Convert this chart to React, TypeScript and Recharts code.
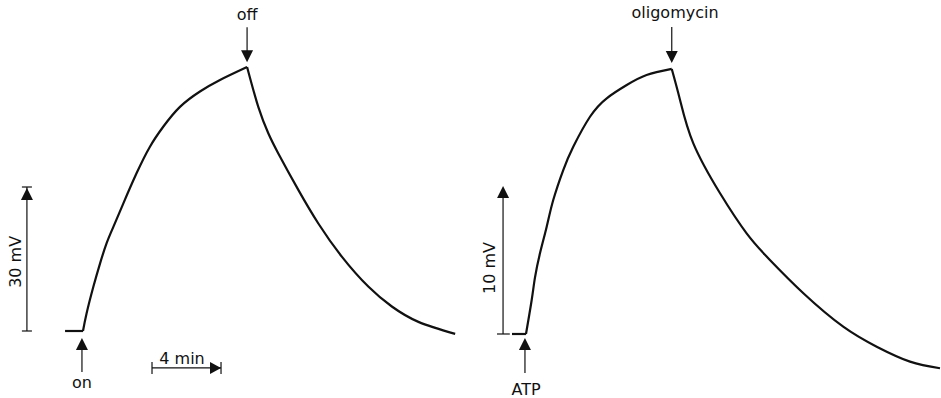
import React from "react";
import { LineChart, Line, XAxis, YAxis, ReferenceLine, ReferenceDot } from "recharts";

// Trace 1: light on/off (time in min, potential in mV)
const lightBaseMin = [-1.04, 0];
const lightBaseMv = [0, 0];
const lightRiseMin = [0, 0.21, 0.6, 0.99, 1.37, 1.76, 2.34, 3.11, 3.88, 4.66, 5.62, 6.78, 7.94, 9.51];
const lightRiseMv = [0, 3.7, 9.2, 14.1, 18.3, 21.7, 26.6, 32.9, 38.4, 42.6, 46.7, 49.9, 52.3, 55.0];
const lightDecayMin = [9.51, 10.16, 10.74, 11.32, 12.48, 13.64, 15.0, 16.55, 17.9, 19.44, 21.57];
const lightDecayMv = [55.0, 46.7, 41.2, 37.0, 29.4, 22.4, 15.5, 9.2, 5.1, 1.9, -0.6];

// Trace 2: ATP then oligomycin
const atpBaseMin = [-0.81, 0];
const atpBaseMv = [0, 0];
const atpRiseMin = [0, 0.33, 0.52, 0.81, 1.2, 1.58, 2.16, 2.74, 3.71, 4.68, 5.84, 6.99, 8.45];
const atpRiseMv = [0, 2.41, 4.0, 5.72, 7.61, 9.5, 11.63, 13.28, 15.41, 16.72, 17.66, 18.37, 18.8];
const atpDecayMin = [8.45, 8.93, 9.7, 11.25, 12.79, 14.14, 16.08, 18.39, 20.33, 22.26, 24.0];
const atpDecayMv = [18.8, 16.6, 13.52, 9.98, 7.14, 5.25, 2.89, 0.52, -0.9, -1.96, -2.43];

const toRows = (ts: number[], vs: number[]) => ts.map((t, i) => ({ t, v: vs[i] }));

const INK = "#111";
const FONT = "'DejaVu Sans', sans-serif";

const downHead = (p: any) => (
  <polygon points={`${p.cx - 6},${p.cy - 12} ${p.cx + 6},${p.cy - 12} ${p.cx},${p.cy}`} fill={INK} />
);
const upHead = (p: any) => (
  <polygon points={`${p.cx - 6},${p.cy + 12} ${p.cx + 6},${p.cy + 12} ${p.cx},${p.cy}`} fill={INK} />
);
const rightHead = (p: any) => (
  <polygon points={`${p.cx - 11},${p.cy - 6} ${p.cx - 11},${p.cy + 6} ${p.cx},${p.cy}`} fill={INK} />
);
const tag = (text: string, rotate = false) => (p: any) => (
  <text
    x={p.cx}
    y={p.cy}
    textAnchor="middle"
    dominantBaseline="central"
    fontFamily={FONT}
    fontSize={16}
    fill={INK}
    transform={rotate ? `rotate(-90 ${p.cx} ${p.cy})` : undefined}
  >
    {text}
  </text>
);

const seg = (x1: number, y1: number, x2: number, y2: number) => (
  <ReferenceLine
    segment={[{ x: x1, y: y1 }, { x: x2, y: y2 }]}
    stroke={INK}
    strokeWidth={1.2}
    ifOverflow="visible"
  />
);

const trace = (rows: any[], type: "linear" | "natural") => (
  <Line
    data={rows}
    dataKey="v"
    type={type}
    stroke={INK}
    strokeWidth={2.2}
    dot={false}
    activeDot={false}
    isAnimationActive={false}
  />
);

const LightPanel = () => (
  <LineChart width={470} height={398} margin={{ top: 0, right: 0, bottom: 0, left: 0 }}>
    <XAxis type="number" dataKey="t" domain={[-4.81, 22.43]} allowDataOverflow hide />
    <YAxis type="number" domain={[-13.96, 68.96]} allowDataOverflow hide />
    {trace(toRows(lightBaseMin, lightBaseMv), "linear")}
    {trace(toRows(lightRiseMin, lightRiseMv), "natural")}
    {trace(toRows(lightDecayMin, lightDecayMv), "natural")}

    {/* "off" marker */}
    {seg(9.51, 63.3, 9.51, 57)}
    <ReferenceDot x={9.51} y={56.0} shape={downHead} ifOverflow="visible" />
    <ReferenceDot x={9.51} y={66.0} shape={tag("off")} ifOverflow="visible" />

    {/* "on" marker */}
    {seg(-0.06, -8.54, -0.06, -2.5)}
    <ReferenceDot x={-0.06} y={-1.46} shape={upHead} ifOverflow="visible" />
    <ReferenceDot x={-0.06} y={-10.7} shape={tag("on")} ifOverflow="visible" />

    {/* 30 mV scale bar */}
    {seg(-3.25, 0, -3.25, 30)}
    {seg(-3.54, 0, -2.96, 0)}
    {seg(-3.54, 30, -2.96, 30)}
    <ReferenceDot x={-3.25} y={29.8} shape={upHead} ifOverflow="visible" />
    <ReferenceDot x={-3.94} y={14.4} shape={tag("30 mV", true)} ifOverflow="visible" />

    {/* 4 min time bar */}
    {seg(4.0, -7.7, 8.0, -7.7)}
    {seg(4.0, -6.45, 4.0, -8.95)}
    {seg(8.0, -6.45, 8.0, -8.95)}
    <ReferenceDot x={8.0} y={-7.7} shape={rightHead} ifOverflow="visible" />
    <ReferenceDot x={5.74} y={-5.8} shape={tag("4 min")} ifOverflow="visible" />
  </LineChart>
);

const AtpPanel = () => (
  <LineChart width={471} height={398} margin={{ top: 0, right: 0, bottom: 0, left: 0 }}>
    <XAxis type="number" dataKey="t" domain={[-3.246, 24.058]} allowDataOverflow hide />
    <YAxis type="number" domain={[-4.54, 23.69]} allowDataOverflow hide />
    {trace(toRows(atpBaseMin, atpBaseMv), "linear")}
    {trace(toRows(atpRiseMin, atpRiseMv), "natural")}
    {trace(toRows(atpDecayMin, atpDecayMv), "natural")}

    {/* oligomycin marker */}
    {seg(8.45, 21.77, 8.45, 19.6)}
    <ReferenceDot x={8.45} y={19.22} shape={downHead} ifOverflow="visible" />
    <ReferenceDot x={8.64} y={22.77} shape={tag("oligomycin")} ifOverflow="visible" />

    {/* ATP marker */}
    {seg(-0.06, -2.77, -0.06, -0.7)}
    <ReferenceDot x={-0.06} y={-0.28} shape={upHead} ifOverflow="visible" />
    <ReferenceDot x={0} y={-3.97} shape={tag("ATP")} ifOverflow="visible" />

    {/* 10 mV scale bar */}
    {seg(-1.33, 0, -1.33, 10)}
    {seg(-1.68, 0, -0.93, 0)}
    <ReferenceDot x={-1.33} y={10.5} shape={upHead} ifOverflow="visible" />
    <ReferenceDot x={-2.14} y={4.68} shape={tag("10 mV", true)} ifOverflow="visible" />
  </LineChart>
);

export default function App() {
  return (
    <div style={{ position: "absolute", left: 0, top: 0, width: 941, height: 398, background: "#fff" }}>
      <div style={{ position: "absolute", left: 0, top: 0 }}>
        <LightPanel />
      </div>
      <div style={{ position: "absolute", left: 470, top: 0 }}>
        <AtpPanel />
      </div>
    </div>
  );
}
